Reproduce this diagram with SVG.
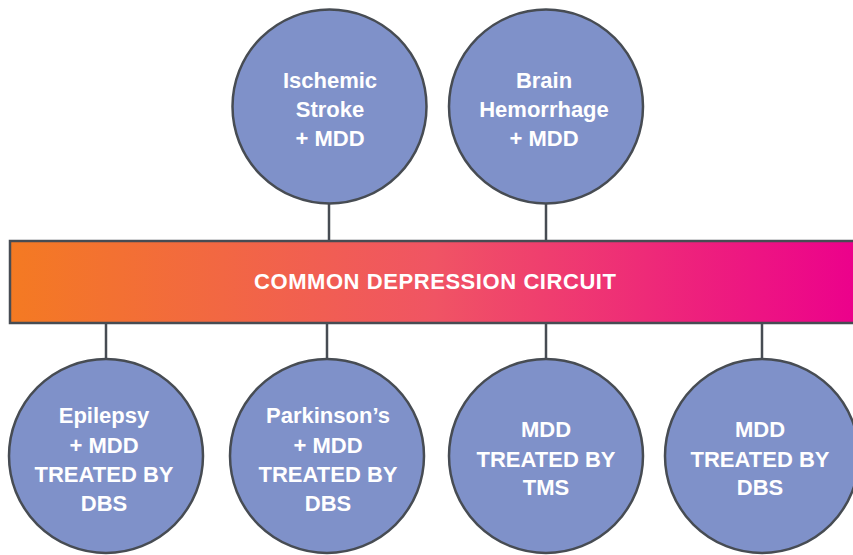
<svg xmlns="http://www.w3.org/2000/svg" width="853" height="555" viewBox="0 0 853 555">
<defs>
<linearGradient id="barGrad" x1="0" y1="0" x2="1" y2="0">
<stop offset="0" stop-color="#f47a22"/>
<stop offset="0.5" stop-color="#f05464"/>
<stop offset="1" stop-color="#ec008c"/>
</linearGradient>
<style>
.node circle{fill:#7f91c9;stroke:#474c53;stroke-width:2.5}
.lbl{font-family:"Liberation Sans",Arial,sans-serif;font-weight:bold;font-size:22px;fill:#ffffff;text-anchor:middle}
.conn line{stroke:#474c53;stroke-width:2.5}
</style>
</defs>
<rect width="853" height="555" fill="#ffffff"/>
<g class="conn" id="connectors">
<line x1="329" y1="204" x2="329" y2="241"/>
<line x1="546" y1="204" x2="546" y2="241"/>
<line x1="106" y1="323" x2="106" y2="360"/>
<line x1="327" y1="323" x2="327" y2="360"/>
<line x1="546" y1="323" x2="546" y2="360"/>
<line x1="762" y1="323" x2="762" y2="360"/>
</g>
<g id="bar">
<rect x="10" y="241" width="850" height="82" fill="url(#barGrad)" stroke="#474c53" stroke-width="2.5"/>
<text class="lbl" x="435" y="289" font-size="21" textLength="362" lengthAdjust="spacing">COMMON DEPRESSION CIRCUIT</text>
</g>
<g class="node" id="ischemic">
<circle cx="329.5" cy="106.5" r="97"/>
<text class="lbl" x="330" y="88">Ischemic</text>
<text class="lbl" x="330" y="117">Stroke</text>
<text class="lbl" x="330" y="146">+ MDD</text>
</g>
<g class="node" id="hemorrhage">
<circle cx="546" cy="106.5" r="97"/>
<text class="lbl" x="544" y="88">Brain</text>
<text class="lbl" x="544" y="117">Hemorrhage</text>
<text class="lbl" x="544" y="146">+ MDD</text>
</g>
<g class="node" id="epilepsy">
<circle cx="106" cy="456" r="97"/>
<text class="lbl" x="104" y="423">Epilepsy</text>
<text class="lbl" x="104" y="453">+ MDD</text>
<text class="lbl" x="104" y="482">TREATED BY</text>
<text class="lbl" x="104" y="511">DBS</text>
</g>
<g class="node" id="parkinsons">
<circle cx="327" cy="456" r="97"/>
<text class="lbl" x="328" y="423">Parkinson’s</text>
<text class="lbl" x="328" y="453">+ MDD</text>
<text class="lbl" x="328" y="482">TREATED BY</text>
<text class="lbl" x="328" y="511">DBS</text>
</g>
<g class="node" id="mdd-tms">
<circle cx="546" cy="456" r="97"/>
<text class="lbl" x="546" y="437">MDD</text>
<text class="lbl" x="546" y="467">TREATED BY</text>
<text class="lbl" x="546" y="495">TMS</text>
</g>
<g class="node" id="mdd-dbs">
<circle cx="762" cy="456" r="97"/>
<text class="lbl" x="760" y="437">MDD</text>
<text class="lbl" x="760" y="467">TREATED BY</text>
<text class="lbl" x="760" y="495">DBS</text>
</g>
</svg>
